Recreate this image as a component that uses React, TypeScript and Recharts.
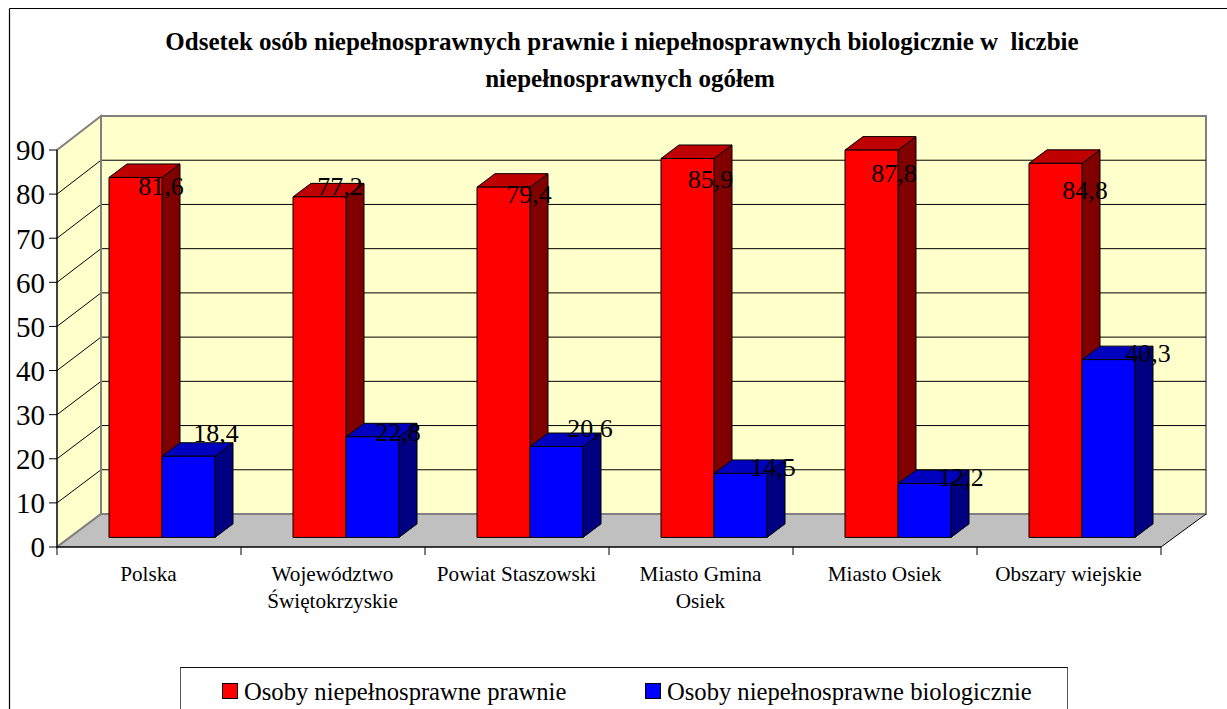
import { Bar, BarChart, LabelList, Legend, XAxis, YAxis } from "recharts";

const categories = [
  "Polska",
  "Województwo\nŚwiętokrzyskie",
  "Powiat Staszowski",
  "Miasto Gmina\nOsiek",
  "Miasto Osiek",
  "Obszary wiejskie",
];
const prawnie = [81.6, 77.2, 79.4, 85.9, 87.8, 84.8];
const biologicznie = [18.4, 22.8, 20.6, 14.5, 12.2, 40.3];
const yTicks = [0, 10, 20, 30, 40, 50, 60, 70, 80, 90];
const titleLines = [
  "Odsetek osób niepełnosprawnych prawnie i niepełnosprawnych biologicznie w  liczbie",
  "niepełnosprawnych ogółem",
];

const data = categories.map((name, i) => ({
  name,
  prawnie: prawnie[i],
  biologicznie: biologicznie[i],
}));

const FONT = "'Liberation Serif', serif";
const W = 1227;
const H = 709;
// front plane of the fake 3D box
const PLOT = { left: 57, top: 150, right: 1161, bottom: 547 };
const DEPTH = { x: 45, y: 33 };
const BAR_DEPTH = { x: 18, y: 13.5 };
// bars stand in the middle of the floor
const BAR_SHIFT = { x: 13, y: 9.6 };
// second title line sits a bit right of the first in the original
const titleCentres = [622, 630];

// the labels in the original were dragged around by hand
const redNudge = [
  [25.5, 18],
  [20.5, -2],
  [25.5, 16],
  [23, 30],
  [22.5, 32],
  [29.5, 36],
];
const blueNudge = [
  [27.5, -14],
  [25.5, 4],
  [33.5, -10],
  [32.5, 3],
  [36.5, 2],
  [39.5, 2],
];

function Box3D(props: any) {
  const { x, y, width, height, front, top, side } = props;
  const l = x + BAR_SHIFT.x;
  const t = y - BAR_SHIFT.y;
  const r = l + width;
  const b = t + height;
  const dx = BAR_DEPTH.x;
  const dy = BAR_DEPTH.y;
  return (
    <g stroke="#000" strokeWidth={1} strokeLinejoin="round">
      <polygon
        points={`${r},${t} ${r + dx},${t - dy} ${r + dx},${b - dy} ${r},${b}`}
        fill={side}
      />
      <polygon
        points={`${l},${t} ${l + dx},${t - dy} ${r + dx},${t - dy} ${r},${t}`}
        fill={top}
      />
      <rect x={l} y={t} width={width} height={height} fill={front} />
    </g>
  );
}

function Backdrop() {
  const { left, top, right, bottom } = PLOT;
  const bl = left + DEPTH.x - 1;
  const br = right + DEPTH.x;
  const bt = top - DEPTH.y - 1;
  const bb = bottom - DEPTH.y;
  const step = (right - left) / categories.length;
  return (
    <g>
      <line x1={9.5} y1={8.5} x2={W} y2={8.5} stroke="#000" strokeWidth={1.2} />
      <line x1={9.5} y1={8.5} x2={9.5} y2={H} stroke="#000" strokeWidth={1.2} />
      <text
        fontFamily={FONT}
        fontWeight="bold"
        fontSize={25}
        textAnchor="middle"
        style={{ whiteSpace: "pre" }}
      >
        {titleLines.map((line, i) => (
          <tspan key={i} x={titleCentres[i]} y={50 + i * 36.5}>
            {line}
          </tspan>
        ))}
      </text>
      <polygon
        points={`${bl},${bt} ${br},${bt} ${br},${bb} ${bl},${bb}`}
        fill="#ffffcc"
        stroke="#808080"
        strokeWidth={2}
      />
      <polygon
        points={`${left},${top} ${bl},${bt} ${bl},${bb} ${left},${bottom}`}
        fill="#ffffcc"
        stroke="#808080"
        strokeWidth={2}
      />
      <polygon
        points={`${left},${bottom} ${bl},${bb} ${br},${bb} ${right},${bottom}`}
        fill="#c0c0c0"
      />
      <line x1={left} y1={bottom} x2={bl} y2={bb} stroke="#808080" strokeWidth={2} />
      <line x1={bl} y1={bb} x2={br} y2={bb} stroke="#808080" strokeWidth={2} />
      <line x1={right} y1={bottom} x2={br} y2={bb} stroke="#000" strokeWidth={1} />
      {yTicks.slice(1, -1).map((v) => {
        const f = v / 90;
        const yFront = bottom - f * (bottom - top);
        const yBack = bb - f * (bb - bt);
        return (
          <polyline
            key={v}
            points={`${left},${yFront} ${bl},${yBack} ${br},${yBack}`}
            fill="none"
            stroke="#000"
            strokeWidth={1}
          />
        );
      })}
      <line x1={bl} y1={bt} x2={bl} y2={bb} stroke="#808080" strokeWidth={2} />
      {categories.concat("").map((_, i) => (
        <line
          key={i}
          x1={left + i * step}
          y1={bottom}
          x2={left + i * step}
          y2={bottom + 8}
          stroke="#000"
          strokeWidth={1}
        />
      ))}
    </g>
  );
}

function CategoryTick(props: any) {
  const { x, payload } = props;
  const lines = String(payload.value).split("\n");
  return (
    <text fontFamily={FONT} fontSize={21.2} fill="#000" textAnchor="middle">
      {lines.map((line, i) => (
        <tspan key={i} x={x - 0.5} y={PLOT.bottom + 34 + i * 26.7}>
          {line}
        </tspan>
      ))}
    </text>
  );
}

function valueLabel(nudges: number[][]) {
  return function ValueLabel(props: any) {
    const { x, y, width, value, index } = props;
    const [nx, ny] = nudges[index];
    return (
      <text
        x={x + width / 2 + BAR_SHIFT.x + nx}
        y={y - BAR_SHIFT.y + ny}
        fontFamily={FONT}
        fontSize={26}
        fill="#000"
        textAnchor="middle"
      >
        {Number(value).toFixed(1).replace(".", ",")}
      </text>
    );
  };
}

const legendOffsets = [41, 464];

function LegendBox({ payload }: any) {
  return (
    <div
      style={{
        position: "relative",
        boxSizing: "border-box",
        width: 888,
        height: 60,
        borderTop: "1.5px solid #111",
        borderLeft: "1.5px solid #555",
        borderRight: "1.5px solid #555",
        fontFamily: FONT,
        fontSize: 24.6,
        color: "#000",
      }}
    >
      {(payload ?? []).map((p: any, i: number) => (
        <div key={p.value}>
          <span
            style={{
              position: "absolute",
              left: legendOffsets[i],
              top: 15,
              width: 14,
              height: 14,
              background: p.color,
              border: "1px solid #000",
            }}
          />
          <span
            style={{
              position: "absolute",
              left: legendOffsets[i] + 22,
              top: 10,
              lineHeight: "28px",
              whiteSpace: "nowrap",
            }}
          >
            {p.value}
          </span>
        </div>
      ))}
    </div>
  );
}

export default function App() {
  return (
    <div
      style={{
        position: "absolute",
        left: 0,
        top: 0,
        width: W,
        height: H,
        overflow: "hidden",
        background: "#fff",
      }}
    >
      <BarChart
        width={W}
        height={H}
        data={data}
        margin={{ top: PLOT.top, right: W - PLOT.right, bottom: 0, left: 0 }}
        barCategoryGap={39}
        barGap={0}
      >
        <Backdrop />
        <XAxis
          dataKey="name"
          interval={0}
          height={H - PLOT.bottom}
          tickLine={false}
          axisLine={{ stroke: "#000", strokeWidth: 1.5 }}
          tick={<CategoryTick />}
        />
        <YAxis
          domain={[0, 90]}
          ticks={yTicks}
          interval={0}
          width={PLOT.left}
          tickSize={8}
          tickMargin={4}
          axisLine={{ stroke: "#000" }}
          tickLine={{ stroke: "#000" }}
          tick={{ fontSize: 29, fontFamily: FONT, fill: "#000" }}
        />
        <Legend
          layout="horizontal"
          verticalAlign="middle"
          align="center"
          itemSorter={null}
          wrapperStyle={{ left: 180, top: 667, width: 888, height: 42 }}
          content={<LegendBox />}
        />
        <Bar
          dataKey="prawnie"
          name="Osoby niepełnosprawne prawnie"
          fill="#ff0000"
          isAnimationActive={false}
          shape={(p: any) => <Box3D {...p} front="#ff0000" top="#bf0000" side="#800000" />}
        >
          <LabelList dataKey="prawnie" content={valueLabel(redNudge)} />
        </Bar>
        <Bar
          dataKey="biologicznie"
          name="Osoby niepełnosprawne biologicznie"
          fill="#0000ff"
          isAnimationActive={false}
          shape={(p: any) => <Box3D {...p} front="#0000ff" top="#0000bf" side="#000080" />}
        >
          <LabelList dataKey="biologicznie" content={valueLabel(blueNudge)} />
        </Bar>
      </BarChart>
    </div>
  );
}
